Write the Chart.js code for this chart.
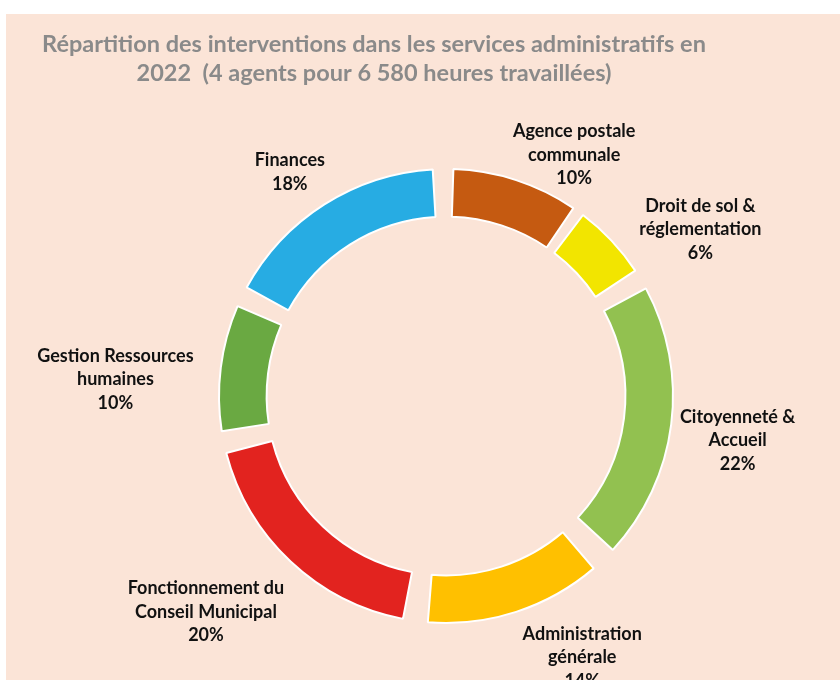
<!DOCTYPE html>
<html>
<head>
<meta charset="utf-8">
<script src="https://cdn.jsdelivr.net/npm/chart.js@4/dist/chart.umd.min.js"></script>
<style>
  html,body{margin:0;padding:0;background:#fff;}
  #wrap{position:absolute;left:0;top:0;width:840px;height:680px;}
</style>
</head>
<body>
<div id="wrap"><canvas id="graph_1" width="840" height="680"></canvas></div>
<script>
// donnees
const titre=["Répartition des interventions dans les services administratifs en","2022  (4 agents pour 6 580 heures travaillées)"];
const services=[
    ["Agence postale","communale"],
    ["Droit de sol &","réglementation"],
    ["Citoyenneté &","Accueil"],
    ["Administration","générale"],
    ["Fonctionnement du","Conseil Municipal"],
    ["Gestion Ressources","humaines"],
    ["Finances"]
];
const parts=[10,6,22,14,20,10,18];
const couleurs=["#C55A11","#F2E500","#92C150","#FFC000","#E2231F","#6AA942","#27ACE3"];

// placement des etiquettes : decalage d'angle (deg) et distance au bord exterieur
const posEtiquettes=[[10,66],[10,97],[1.5,88],[-9.5,88],[4.8,116],[-4.3,124],[-2.5,66]];

const fond={
    id:"fond",
    beforeDraw(chart){
        const ctx=chart.ctx;
        ctx.save();
        ctx.fillStyle="#fff";
        ctx.fillRect(0,0,chart.width,chart.height);
        ctx.fillStyle="#FBE4D7";
        ctx.fillRect(6,14,chart.width-6,chart.height-14);
        ctx.fillStyle="#8A8A8A";
        ctx.font="bold 23.5px Lato";
        ctx.textAlign="center";
        ctx.textBaseline="middle";
        ctx.fillText(titre[0],374,44);
        ctx.fillText(titre[1],374,73);
        ctx.restore();
    }
};

const etiquettes={
    id:"etiquettes",
    afterDatasetsDraw(chart){
        const ctx=chart.ctx;
        const meta=chart.getDatasetMeta(0);
        const total=parts.reduce((a,b)=>a+b,0);
        ctx.save();
        ctx.fillStyle="#111";
        ctx.font="bold 18px Lato";
        ctx.textAlign="center";
        ctx.textBaseline="middle";
        meta.data.forEach((arc,i)=>{
            const p=arc.getProps(["x","y","startAngle","endAngle","outerRadius"],true);
            const a=(p.startAngle+p.endAngle)/2+posEtiquettes[i][0]*Math.PI/180;
            const r=p.outerRadius+posEtiquettes[i][1];
            const lignes=services[i].concat([Math.round(parts[i]/total*100)+"%"]);
            const cx=p.x+Math.cos(a)*r;
            const cy=p.y+Math.sin(a)*r;
            const h=23.5;
            lignes.forEach((t,k)=>{
                ctx.fillText(t,cx,cy+(k-(lignes.length-1)/2)*h);
            });
        });
        ctx.restore();
    }
};

const data={
    labels:services,
    datasets:[{
        data:parts,
        backgroundColor:couleurs,
        borderColor:"#ffffff",
        borderWidth:2,
        spacing:40
    }]
};

const options={
    responsive:false,
    animation:false,
    cutout:"77%",
    layout:{padding:{left:218,right:166,top:168,bottom:56}},
    plugins:{
        legend:{display:false},
        tooltip:{enabled:false}
    }
};

new Chart("graph_1",{type:"doughnut",data,options,plugins:[fond,etiquettes]});
</script>
</body>
</html>
